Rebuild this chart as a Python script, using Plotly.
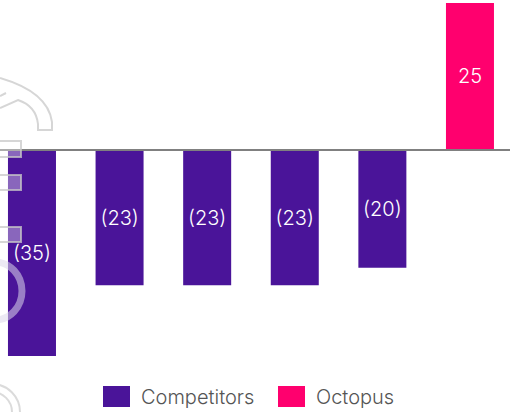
import plotly.graph_objects as go

# Data
categories = ["C1", "C2", "C3", "C4", "C5", "Octopus"]
values = [-35, -23, -23, -23, -20, 25]
groups = ["Competitors", "Competitors", "Competitors", "Competitors", "Competitors", "Octopus"]
group_names = ["Competitors", "Octopus"]
group_colors = {"Competitors": "#4a1499", "Octopus": "#ff006e"}

W, H = 510, 412
MB = 52  # bottom margin reserved for the legend
PH = H - MB
FONT = "Inter, Lato, sans-serif"

def fmt(v):
    return f"({abs(v)})" if v < 0 else f"{v}"

fig = go.Figure()
fig.add_trace(go.Bar(
    x=categories,
    y=values,
    marker=dict(color=[group_colors[g] for g in groups], line=dict(width=0)),
    text=[fmt(v) for v in values],
    textposition="inside",
    insidetextanchor="middle",
    textangle=0,
    constraintext="none",
    textfont=dict(color="white", size=20, family=FONT, weight=300),
    showlegend=False,
    hoverinfo="skip",
))

def px(x):
    return x / W

def py(y):
    return 1 - y / PH

shapes = []
# zero baseline
shapes.append(dict(type="line", xref="paper", yref="y", x0=0, x1=1, y0=0, y1=0,
                   line=dict(color="#808080", width=2), layer="above"))

# faint logo watermark at the left edge
wm_line = dict(color="rgba(200,200,200,0.75)", width=2)
wm_fill = "rgba(255,255,255,0.35)"
hook = (f"M {px(0)},{py(78)} Q {px(48)},{py(92)} {px(52)},{py(122)} L {px(52)},{py(130)} "
        f"L {px(38)},{py(130)} L {px(38)},{py(124)} Q {px(36)},{py(106)} {px(18)},{py(100)} "
        f"L {px(0)},{py(108)}")
shapes.append(dict(type="path", xref="paper", yref="paper", path=hook,
                   line=wm_line, fillcolor="rgba(0,0,0,0)", layer="above"))
shapes.append(dict(type="path", xref="paper", yref="paper",
                   path=f"M {px(0)},{py(96)} L {px(6)},{py(93)}",
                   line=wm_line, layer="above"))
for y0, y1 in [(141, 157), (175, 190), (227, 242)]:
    shapes.append(dict(type="rect", xref="paper", yref="paper",
                       x0=px(-5), x1=px(21), y0=py(y1), y1=py(y0),
                       line=wm_line, fillcolor=wm_fill, layer="above"))
# ring
shapes.append(dict(type="circle", xref="paper", yref="paper",
                   x0=px(-32), x1=px(22), y0=py(320), y1=py(262),
                   line=dict(color="rgba(220,215,235,0.55)", width=7),
                   fillcolor="rgba(0,0,0,0)", layer="above"))
shapes.append(dict(type="circle", xref="paper", yref="paper",
                   x0=px(-36), x1=px(20), y0=py(440), y1=py(384),
                   line=dict(color="rgba(210,210,210,0.8)", width=2),
                   fillcolor="rgba(0,0,0,0)", layer="above"))
shapes.append(dict(type="circle", xref="paper", yref="paper",
                   x0=px(-28), x1=px(12), y0=py(432), y1=py(392),
                   line=dict(color="rgba(210,210,210,0.8)", width=2),
                   fillcolor="rgba(0,0,0,0)", layer="above"))

# legend
annotations = []
legend_pos = {"Competitors": (103, 139), "Octopus": (278, 314)}
for g in group_names:
    sx, tx = legend_pos[g]
    shapes.append(dict(type="rect", xref="paper", yref="paper",
                       x0=px(sx), x1=px(sx + 27), y0=py(407), y1=py(386),
                       line=dict(width=0), fillcolor=group_colors[g]))
    annotations.append(dict(xref="paper", yref="paper", x=px(tx), y=py(397),
                            text=g, showarrow=False, xanchor="left", yanchor="middle",
                            font=dict(size=20, color="#555555", family=FONT, weight=300)))

fig.update_layout(
    width=W, height=H,
    margin=dict(l=0, r=0, t=0, b=MB),
    paper_bgcolor="white", plot_bgcolor="white",
    bargap=0.452,
    showlegend=False,
    shapes=shapes,
    annotations=annotations,
    xaxis=dict(range=[-0.365, 5.457], visible=False, fixedrange=True),
    yaxis=dict(range=[-35.7, 25.5], visible=False, zeroline=False, fixedrange=True),
)

fig.write_html("out.html")
